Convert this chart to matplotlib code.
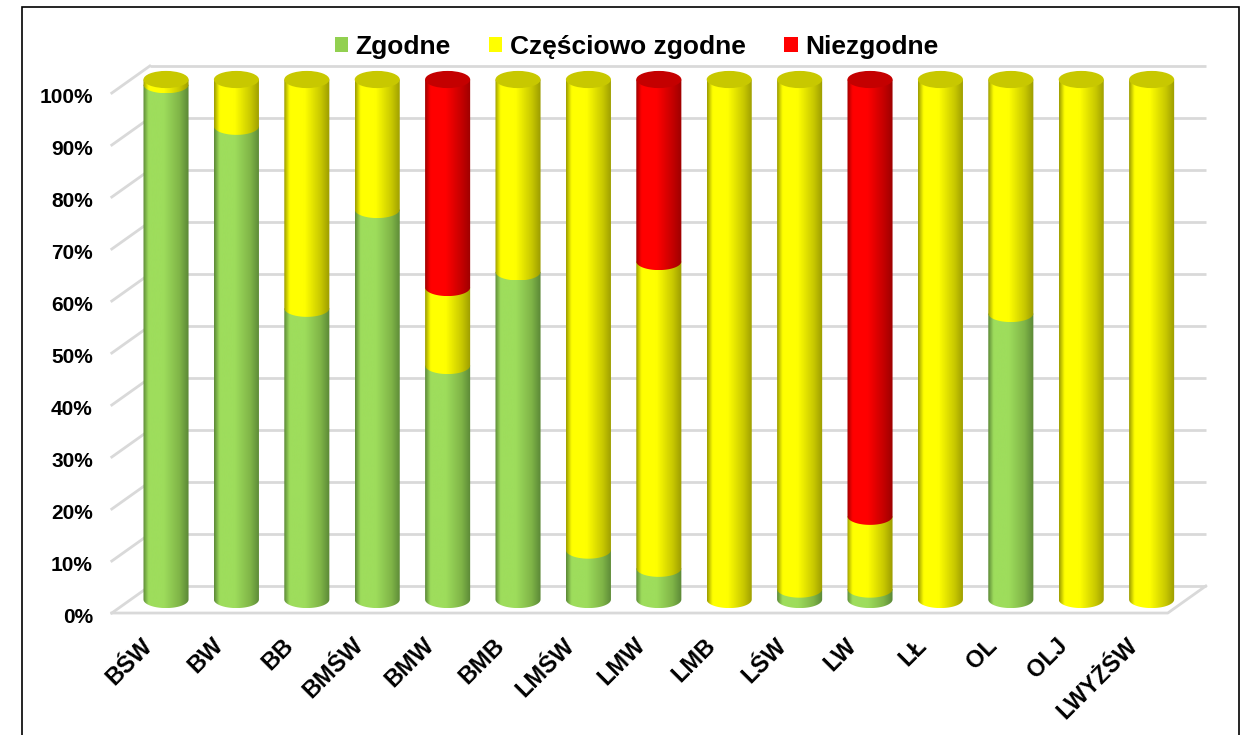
import numpy as np
import matplotlib
matplotlib.use("Agg")
import matplotlib.pyplot as plt
from matplotlib.colors import LinearSegmentedColormap
from matplotlib.patches import PathPatch, Ellipse, Patch, Rectangle
from matplotlib.path import Path

plt.rcParams['font.family'] = ['Liberation Sans', 'DejaVu Sans']
plt.rcParams['font.weight'] = 'bold'

# data (percent of each category)
categories = ['BŚW', 'BW', 'BB', 'BMŚW', 'BMW', 'BMB', 'LMŚW', 'LMW',
              'LMB', 'LŚW', 'LW', 'LŁ', 'OL', 'OLJ', 'LWYŻŚW']
zgodne = [99, 91, 56, 75, 45, 63, 9.5, 6, 0, 2, 2, 0, 55, 0, 0]
czesciowo = [1, 9, 44, 25, 15, 37, 90.5, 59, 100, 98, 14, 100, 45, 100, 100]
niezgodne = [0, 0, 0, 0, 40, 0, 0, 35, 0, 0, 84, 0, 0, 0, 0]
series_names = ['Zgodne', 'Częściowo zgodne', 'Niezgodne']
yticks = [0, 10, 20, 30, 40, 50, 60, 70, 80, 90, 100]

# colours: (dark edge, light centre, mid, legend/cap)
green = ('#5a8636', '#9edd5c', '#7fb447', '#92d050')
yellow = ('#9a9a00', '#ffff00', '#c8c800', '#ffff00')
red = ('#9c0000', '#ff0000', '#c40000', '#ff0000')
colours = [green, yellow, red]

# 3d look
dx, dy = 0.27, 2.6      # half depth of the floor
a, b = 0.32, 1.65       # cylinder ellipse semi axes


def cyl_cmap(c):
    return LinearSegmentedColormap.from_list(
        'cyl', [(0, c[0]), (0.12, c[1]), (0.45, c[1]), (0.8, c[2]), (1, c[0])])


def segment_path(xc, y0, y1):
    t = np.linspace(np.pi, 2 * np.pi, 40)
    arc_x = xc + a * np.cos(t)
    arc_y = y0 + b * np.sin(t)
    verts = list(zip(arc_x, arc_y)) + [(xc + a, y1), (xc - a, y1), (xc - a, y0)]
    codes = [Path.MOVETO] + [Path.LINETO] * (len(verts) - 2) + [Path.CLOSEPOLY]
    return Path(verts, codes)


def draw_segment(ax, xc, y0, y1, c, z):
    patch = PathPatch(segment_path(xc, y0, y1), facecolor='none',
                      edgecolor='none', transform=ax.transData)
    ax.add_patch(patch)
    grad = np.linspace(0, 1, 256).reshape(1, -1)
    im = ax.imshow(grad, extent=(xc - a, xc + a, y0 - b, y1), aspect='auto',
                   cmap=cyl_cmap(c), interpolation='bicubic', zorder=z)
    im.set_clip_path(patch)


fig = plt.figure(figsize=(12.46, 7.35), dpi=100)
ax = fig.add_axes([4.1 / 1246, 57.5 / 735, 1232 / 1246, 676 / 735])
ax.axis('off')

n = len(categories)

# back wall gridlines and left stubs
for v in yticks:
    ax.plot([-0.5 + dx, n - 0.5 + dx], [v + dy, v + dy], color='#d9d9d9',
            lw=2, zorder=1, solid_capstyle='butt')
    ax.plot([-0.5 - dx, -0.5 + dx], [v - dy, v + dy], color='#d9d9d9',
            lw=2, zorder=1)
    ax.text(-0.5 - dx - 0.27, v - dy - 0.8, f'{v}%', ha='right', va='center',
            fontsize=15, fontweight='bold')

# floor
ax.plot([-0.5 - dx, n - 0.5 - dx, n - 0.5 + dx], [-dy, -dy, dy],
        color='#d9d9d9', lw=2, zorder=1)

# stacked cylinders
stacks = np.array([zgodne, czesciowo, niezgodne], dtype=float)
for i in range(n):
    bottom = 0
    top_col = None
    for k in range(3):
        h = stacks[k, i]
        if h <= 0:
            continue
        draw_segment(ax, i, bottom, bottom + h, colours[k], 2 + k)
        bottom += h
        top_col = colours[k]
    cap = Ellipse((i, bottom), 2 * a, 2 * b, facecolor=top_col[2],
                  edgecolor='none', zorder=6)
    ax.add_patch(cap)

# category labels
for i, name in enumerate(categories):
    ax.text(i - 0.36, -dy - 4.0, name, rotation=45, rotation_mode='anchor',
            ha='right', va='top', fontsize=17, fontweight='bold')

ax.set_xlim(-2.3, 15.2)
ax.set_ylim(-15, 115)

# legend
handles = [Patch(facecolor=c[3], edgecolor='none') for c in colours]
fig.legend(handles, series_names, loc='center', bbox_to_anchor=(0.511, 0.936),
           ncol=3, frameon=False, handlelength=0.5, handleheight=0.5,
           handletextpad=0.3, columnspacing=1.45,
           prop={'weight': 'bold', 'size': 19})

# outer frame
fig.add_artist(Rectangle((22 / 1246, -0.01), 1217 / 1246, 1.0,
                         transform=fig.transFigure, fill=False,
                         edgecolor='black', lw=1.2))

fig.savefig('out.png', dpi=100)
